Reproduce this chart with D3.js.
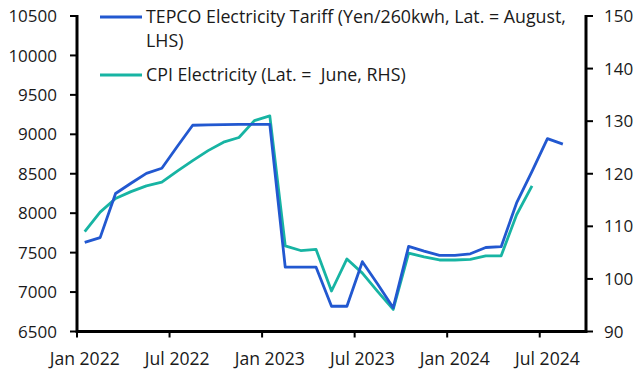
<!DOCTYPE html>
<html>
<head>
<meta charset="utf-8">
<script src="https://cdn.jsdelivr.net/npm/d3@7"></script>
<style>
  html, body { margin: 0; padding: 0; background: #fff; }
  svg text { font-family: "Open Sans", "Noto Sans", sans-serif; fill: #1a1a1a; white-space: pre; }
</style>
</head>
<body>
<svg id="chart" width="642" height="374"></svg>
<script>
// ---- data ----
const months = [];
for (let y = 2022; y <= 2024; y++) {
  for (let m = 0; m < 12; m++) {
    if (y === 2024 && m > 8) break;
    months.push(new Date(y, m, 1));
  }
}
const tepco = [7630, 7690, 8250, 8380, 8505, 8570, 8845, 9115, 9120, 9122, 9125, 9125,
               9125, 7315, 7315, 7315, 6820, 6820, 7385, 7100, 6800, 7580, 7520, 7465,
               7465, 7485, 7565, 7575, 8130, 8530, 8945, 8875];
const cpi = [109.0, 112.7, 115.3, 116.6, 117.7, 118.4, 120.5, 122.5, 124.4, 126.0, 126.9, 130.1,
             131.0, 106.3, 105.4, 105.6, 97.7, 103.8, 101.1, 97.6, 94.2, 104.9, 104.2, 103.6,
             103.6, 103.7, 104.4, 104.4, 112.2, 117.7];
const leftTicks = [6500, 7000, 7500, 8000, 8500, 9000, 9500, 10000, 10500];
const rightTicks = [90, 100, 110, 120, 130, 140, 150];
const xTickLabels = ["Jan 2022", "Jul 2022", "Jan 2023", "Jul 2023", "Jan 2024", "Jul 2024"];
const seriesNames = ["TEPCO Electricity Tariff (Yen/260kwh, Lat. = August,", "LHS)", "CPI Electricity (Lat. =  June, RHS)"];

// ---- layout ----
const L = 77, R = 586, T = 16, B = 331.5;
const blue = "#2258d0", teal = "#17b4a3";
const svg = d3.select("#chart");
const fmt = d3.timeFormat("%b %Y");

const x = d3.scaleBand().domain(months.map(d => +d)).range([L, R]).padding(0);
const bw = x.bandwidth();
const yL = d3.scaleLinear().domain([6500, 10500]).range([B, T]);
const yR = d3.scaleLinear().domain([90, 150]).range([B, T]);

// lines
const lineL = d3.line().x((d, i) => x(+months[i]) + bw / 2).y(d => yL(d));
const lineR = d3.line().x((d, i) => x(+months[i]) + bw / 2).y(d => yR(d));

svg.append("path").attr("d", lineR(cpi)).attr("fill", "none")
  .attr("stroke", teal).attr("stroke-width", 2.8).attr("stroke-linejoin", "round");
svg.append("path").attr("d", lineL(tepco)).attr("fill", "none")
  .attr("stroke", blue).attr("stroke-width", 2.8).attr("stroke-linejoin", "round");

// axes
const axisStroke = 3;
// left axis
const gl = svg.append("g");
gl.append("line").attr("x1", L).attr("x2", L).attr("y1", T - 1).attr("y2", B + 1.5)
  .attr("stroke", "#000").attr("stroke-width", axisStroke);
leftTicks.forEach(t => {
  gl.append("line").attr("x1", L - 7).attr("x2", L).attr("y1", yL(t)).attr("y2", yL(t))
    .attr("stroke", "#000").attr("stroke-width", 2);
  gl.append("text").attr("x", 57).attr("y", yL(t)).attr("dy", "0.36em")
    .attr("text-anchor", "end").attr("font-size", 17).text(t);
});
// right axis
const gr = svg.append("g");
gr.append("line").attr("x1", R).attr("x2", R).attr("y1", T - 1).attr("y2", B + 1.5)
  .attr("stroke", "#000").attr("stroke-width", axisStroke);
rightTicks.forEach(t => {
  gr.append("line").attr("x1", R).attr("x2", R + 7).attr("y1", yR(t)).attr("y2", yR(t))
    .attr("stroke", "#000").attr("stroke-width", 2);
  gr.append("text").attr("x", 604).attr("y", yR(t)).attr("dy", "0.36em")
    .attr("text-anchor", "start").attr("font-size", 17).text(t);
});
// bottom axis
const gb = svg.append("g");
gb.append("line").attr("x1", L).attr("x2", R).attr("y1", B).attr("y2", B)
  .attr("stroke", "#000").attr("stroke-width", axisStroke);
months.forEach(m => {
  const lab = fmt(m);
  if (xTickLabels.includes(lab)) {
    gb.append("line").attr("x1", x(+m)).attr("x2", x(+m)).attr("y1", B).attr("y2", B + 6)
      .attr("stroke", "#000").attr("stroke-width", 2);
    gb.append("text").attr("x", x(+m) + bw / 2).attr("y", 365)
      .attr("text-anchor", "middle").attr("font-size", 17.6).text(lab);
  }
});

// legend
const lg = svg.append("g");
lg.append("line").attr("x1", 100).attr("x2", 142).attr("y1", 17).attr("y2", 17)
  .attr("stroke", blue).attr("stroke-width", 2.8);
lg.append("text").attr("x", 146).attr("y", 23).attr("font-size", 17.8).text(seriesNames[0]);
lg.append("text").attr("x", 146).attr("y", 47).attr("font-size", 17.8).text(seriesNames[1]);
lg.append("line").attr("x1", 100).attr("x2", 142).attr("y1", 75).attr("y2", 75)
  .attr("stroke", teal).attr("stroke-width", 2.8);
lg.append("text").attr("x", 146).attr("y", 81).attr("font-size", 17.8).text(seriesNames[2]);
</script>
</body>
</html>
